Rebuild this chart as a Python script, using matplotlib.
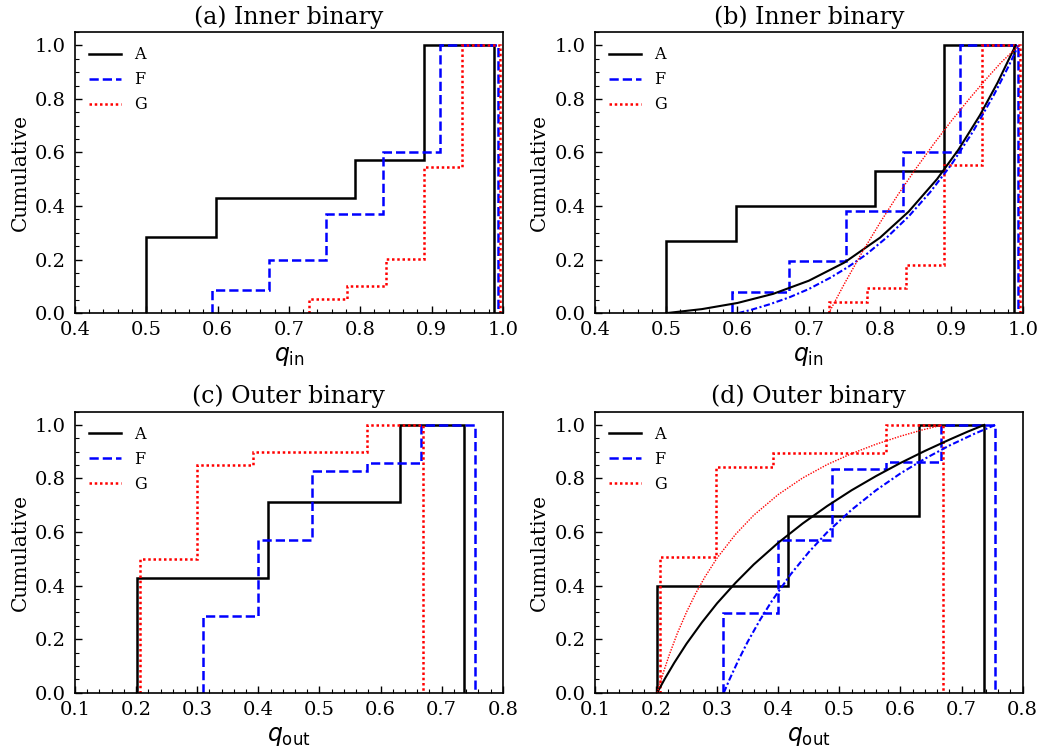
import numpy as np
import matplotlib
matplotlib.use("Agg")
from matplotlib import pyplot as plt
from matplotlib.ticker import MultipleLocator

plt.rcParams['font.family'] = ['DejaVu Serif']
plt.rcParams['mathtext.fontset'] = 'dejavusans'

# cumulative step distributions, inner binary (bin edges, cumulative fraction)
inA_edges = [0.500, 0.5976, 0.695, 0.793, 0.890, 0.988]
inA_cum_a = [0.286, 0.429, 0.429, 0.571, 1.0]
inA_cum_b = [0.271, 0.399, 0.399, 0.530, 1.0]
inF_edges = [0.592, 0.672, 0.752, 0.8325, 0.9125, 0.993]
inF_cum_a = [0.087, 0.200, 0.370, 0.600, 1.0]
inF_cum_b = [0.078, 0.193, 0.383, 0.600, 1.0]
inG_edges = [0.728, 0.782, 0.836, 0.889, 0.943, 0.996]
inG_cum_a = [0.052, 0.102, 0.201, 0.547, 1.0]
inG_cum_b = [0.043, 0.093, 0.180, 0.553, 1.0]

# outer binary
outA_edges = [0.201, 0.308, 0.416, 0.523, 0.631, 0.737]
outA_cum_c = [0.429, 0.429, 0.714, 0.714, 1.0]
outA_cum_d = [0.399, 0.399, 0.660, 0.660, 1.0]
outF_edges = [0.310, 0.399, 0.488, 0.577, 0.666, 0.755]
outF_cum_c = [0.286, 0.571, 0.829, 0.857, 1.0]
outF_cum_d = [0.296, 0.570, 0.834, 0.861, 1.0]
outG_edges = [0.206, 0.299, 0.391, 0.484, 0.577, 0.669]
outG_cum_c = [0.500, 0.850, 0.900, 0.900, 1.0]
outG_cum_d = [0.506, 0.844, 0.897, 0.897, 1.0]

# fitted cumulative curves for (b)
fitA_in_q = [0.50, 0.55, 0.60, 0.65, 0.70, 0.75, 0.80, 0.84, 0.88, 0.91, 0.94, 0.965, 0.99]
fitA_in_c = [0.000, 0.015, 0.038, 0.072, 0.121, 0.189, 0.282, 0.379, 0.501, 0.611, 0.739, 0.862, 1.000]
fitF_in_q = [0.601, 0.62, 0.645, 0.6727, 0.70, 0.73, 0.7537, 0.78, 0.81, 0.84, 0.87, 0.90, 0.93, 0.96, 0.98, 0.994]
fitF_in_c = [0.000, 0.013, 0.033, 0.059, 0.090, 0.132, 0.170, 0.218, 0.284, 0.361, 0.451, 0.555, 0.677, 0.817, 0.921, 1.000]
fitG_in_q = [0.728, 0.75, 0.775, 0.80, 0.825, 0.85, 0.875, 0.90, 0.925, 0.95, 0.97, 0.995]
fitG_in_c = [0.000, 0.110, 0.228, 0.338, 0.442, 0.539, 0.631, 0.718, 0.800, 0.878, 0.937, 1.000]

# fitted cumulative curves for (d)
fitA_out_q = [0.202, 0.215, 0.23, 0.25, 0.275, 0.30, 0.33, 0.36, 0.40, 0.44, 0.48, 0.52, 0.56, 0.60, 0.64, 0.68, 0.71, 0.737]
fitA_out_c = [0.000, 0.054, 0.112, 0.183, 0.262, 0.334, 0.410, 0.479, 0.560, 0.632, 0.697, 0.756, 0.809, 0.858, 0.903, 0.945, 0.975, 1.000]
fitF_out_q = [0.311, 0.32, 0.335, 0.35, 0.37, 0.39, 0.42, 0.45, 0.48, 0.52, 0.56, 0.60, 0.64, 0.68, 0.72, 0.755]
fitF_out_c = [0.000, 0.048, 0.122, 0.190, 0.271, 0.344, 0.441, 0.525, 0.599, 0.683, 0.756, 0.819, 0.874, 0.923, 0.966, 1.000]
fitG_out_q = [0.202, 0.212, 0.222, 0.235, 0.25, 0.265, 0.28, 0.30, 0.33, 0.36, 0.40, 0.44, 0.48, 0.52, 0.56, 0.60, 0.635, 0.669]
fitG_out_c = [0.000, 0.075, 0.143, 0.222, 0.301, 0.371, 0.432, 0.503, 0.591, 0.663, 0.740, 0.802, 0.852, 0.893, 0.928, 0.958, 0.981, 1.000]

labels = ['A', 'F', 'G']
colors = ['k', 'b', 'r']
styles = ['-', '--', (0, (1, 1.1))]
fit_styles = ['-', (0, (3, 1.2, 1, 1.2)), (0, (1, 1))]
fit_widths = [1.5, 1.5, 1.0]


def style_axes(ax, xlim, xlabel, title):
    ax.set_xlim(*xlim)
    ax.set_ylim(0, 1.05)
    ax.xaxis.set_major_locator(MultipleLocator(0.1))
    ax.xaxis.set_minor_locator(MultipleLocator(0.02))
    ax.yaxis.set_major_locator(MultipleLocator(0.2))
    ax.yaxis.set_minor_locator(MultipleLocator(0.05))
    ax.tick_params(which='both', direction='in', labelsize=14)
    ax.tick_params(which='major', length=5, width=1.0)
    ax.tick_params(which='minor', length=3, width=0.8)
    ax.tick_params(axis='x', which='major', pad=6)
    ax.tick_params(axis='y', which='major', pad=6.5)
    for s in ax.spines.values():
        s.set_linewidth(1.2)
    ax.set_xlabel(xlabel, fontsize=17, labelpad=4)
    ax.set_ylabel("Cumulative", fontsize=14.5)
    ax.set_title(title, fontsize=17)
    ax.legend(loc='upper left', frameon=False, fontsize=11.5)


def draw_steps(ax, edges, cums):
    for e, c, col, ls, lab in zip(edges, cums, colors, styles, labels):
        ax.stairs(c, e, baseline=0, color=col, ls=ls, lw=1.8, label=lab)


fig, axs = plt.subplots(2, 2, figsize=(10.47, 7.56), dpi=100)
fig.subplots_adjust(left=0.0716, right=0.9768, top=0.9577, bottom=0.0837,
                    wspace=0.215, hspace=0.35)

# (a) inner binary, observed
draw_steps(axs[0, 0], [inA_edges, inF_edges, inG_edges],
           [inA_cum_a, inF_cum_a, inG_cum_a])
style_axes(axs[0, 0], (0.4, 1.0), r"$q_{\rm in}$", "(a) Inner binary")

# (b) inner binary with fitted distributions
draw_steps(axs[0, 1], [inA_edges, inF_edges, inG_edges],
           [inA_cum_b, inF_cum_b, inG_cum_b])
for q, c, col, ls, lw in zip([fitA_in_q, fitF_in_q, fitG_in_q],
                             [fitA_in_c, fitF_in_c, fitG_in_c],
                             colors, fit_styles, fit_widths):
    axs[0, 1].plot(q, c, color=col, ls=ls, lw=lw)
style_axes(axs[0, 1], (0.4, 1.0), r"$q_{\rm in}$", "(b) Inner binary")

# (c) outer binary, observed
draw_steps(axs[1, 0], [outA_edges, outF_edges, outG_edges],
           [outA_cum_c, outF_cum_c, outG_cum_c])
style_axes(axs[1, 0], (0.1, 0.8), r"$q_{\rm out}$", "(c) Outer binary")

# (d) outer binary with fitted distributions
draw_steps(axs[1, 1], [outA_edges, outF_edges, outG_edges],
           [outA_cum_d, outF_cum_d, outG_cum_d])
for q, c, col, ls, lw in zip([fitA_out_q, fitF_out_q, fitG_out_q],
                             [fitA_out_c, fitF_out_c, fitG_out_c],
                             colors, fit_styles, fit_widths):
    axs[1, 1].plot(q, c, color=col, ls=ls, lw=lw)
style_axes(axs[1, 1], (0.1, 0.8), r"$q_{\rm out}$", "(d) Outer binary")

fig.savefig("out.png", dpi=100)
